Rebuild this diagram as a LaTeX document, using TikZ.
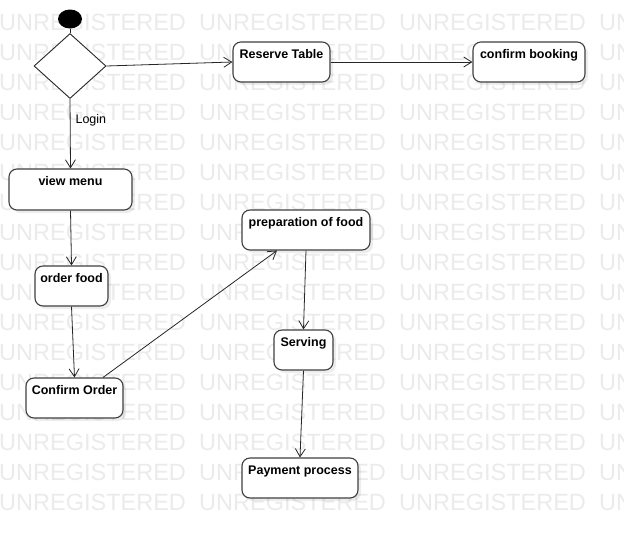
\documentclass[tikz,border=0pt]{standalone}
\usepackage{fontspec}
\setmainfont{Liberation Sans}
\usetikzlibrary{arrows.meta,shapes.geometric,shadows}
\begin{document}
\begin{tikzpicture}[x=1pt,y=-1pt,
  wmark/.style={anchor=base west,inner sep=0pt,text=black!8,
    font=\fontsize{23.5}{24}\selectfont},
  actbox/.style={draw=black!75,line width=1.1pt,fill=white,rounded corners=8pt,
    inner sep=0pt,
    drop shadow={shadow xshift=3pt,shadow yshift=-3pt,fill=black,opacity=0.07}},
  acttext/.style={anchor=base,inner sep=0pt,text=black,
    font=\fontsize{12.5}{14}\selectfont\bfseries},
  flow/.style={draw=black!85,line width=0.8pt},
  arr/.style={flow,-{Straight Barb[length=8pt,width=10pt,line width=0.8pt]}},
]
\useasboundingbox (0,0) rectangle (624,538);
\fill[white] (0,0) rectangle (624,538);

% background watermark rows
\foreach \r in {0,...,16}{
  \foreach \c in {0,...,3}{
    \node[wmark] at (-1+200*\c, 30+30*\r) {UNREGISTERED};
  }
}

% initial state and decision
\node[ellipse,fill=black,inner sep=0pt,minimum width=24pt,minimum height=19pt]
  (init) at (70,19) {};
\node[diamond,draw=black!85,line width=0.9pt,fill=white,inner sep=0pt,
  minimum width=72pt,minimum height=65pt,aspect=1.1] (dec) at (70,66) {};
\draw[flow] (init.south) -- (dec.north);

% activity boxes, each with its title near the top edge
\node[actbox,minimum width=97pt,minimum height=40pt] (rt) at (281.5,62) {};
\node[acttext] at ([yshift=-17.5pt]rt.north) {Reserve Table};

\node[actbox,minimum width=112pt,minimum height=40pt] (cb) at (529,62) {};
\node[acttext] at ([yshift=-17.5pt]cb.north) {confirm booking};

\node[actbox,minimum width=123pt,minimum height=41pt] (vm) at (70.5,189.5) {};
\node[acttext] at ([yshift=-17.5pt]vm.north) {view menu};

\node[actbox,minimum width=73pt,minimum height=40pt] (of) at (71.5,286) {};
\node[acttext] at ([yshift=-17pt]of.north) {order food};

\node[actbox,minimum width=97pt,minimum height=40pt] (co) at (74.5,398) {};
\node[acttext] at ([yshift=-17pt]co.north) {Confirm Order};

\node[actbox,minimum width=128pt,minimum height=40pt] (pf) at (306,230) {};
\node[acttext] at ([yshift=-17pt]pf.north) {preparation of food};

\node[actbox,minimum width=59pt,minimum height=40pt] (sv) at (303.5,350) {};
\node[acttext] at ([yshift=-17pt]sv.north) {Serving};

\node[actbox,minimum width=116pt,minimum height=40pt] (pp) at (300,478) {};
\node[acttext] at ([yshift=-17pt]pp.north) {Payment process};

% transitions
\draw[arr] (dec.east) -- (rt.west);
\draw[arr] (rt.east) -- (cb.west);
\draw[arr] (dec.south) -- node[pos=0.3,anchor=west,inner sep=0pt,xshift=5pt,
  font=\fontsize{12.5}{14}\selectfont] (login) {Login} (vm.north);
\draw[arr] (vm.south) -- (of.north);
\draw[arr] (of.south) -- (co.north);
\draw[arr] ([xshift=28.5pt]co.north) -- ([xshift=-29pt]pf.south);
\draw[arr] (pf.south) -- (sv.north);
\draw[arr] (sv.south) -- (pp.north);
\end{tikzpicture}
\end{document}
